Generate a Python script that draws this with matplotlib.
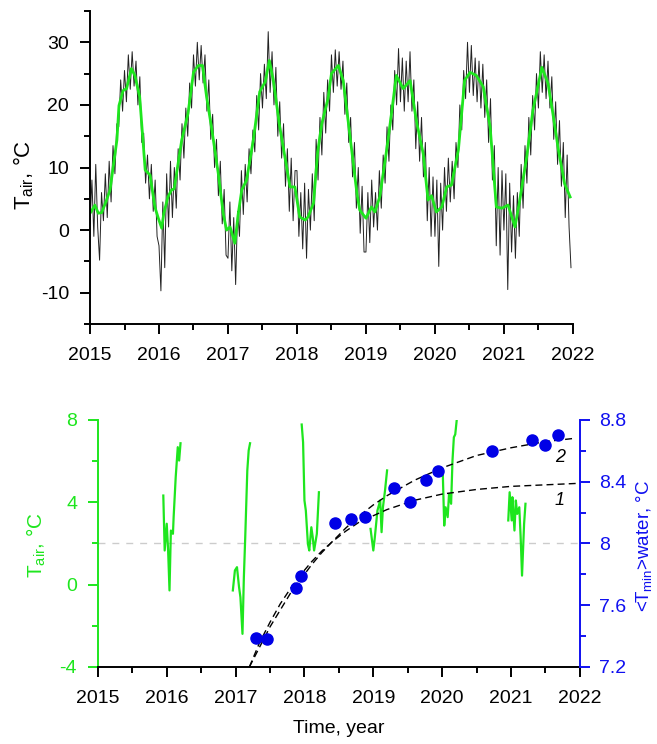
import numpy as np
import matplotlib
matplotlib.use('Agg')
import matplotlib.pyplot as plt
from matplotlib.ticker import MultipleLocator, FuncFormatter

plt.rcParams['font.family'] = ['Liberation Sans', 'DejaVu Sans']
plt.rcParams['mathtext.default'] = 'regular'
plt.rcParams['axes.unicode_minus'] = False

GREEN = '#1ee61e'
BLUE = '#1010f0'

# --- top panel: air temperature, ~10-day samples ---
tair_2015 = [1.0, 8.0, -1.0, 10.5, 0.5, -4.8, 6.0, 1.5, 9.0, 2.0, 11.0, 4.5, 13.5, 9.0, 17.0, 16.5, 24.0, 19.0,
             25.5, 20.5, 28.0, 22.5, 28.5, 23.0, 27.0, 20.0, 24.5, 14.0, 15.5, 7.5, 12.0, 5.0, 10.5, 3.0, 8.0, -1.0]
tair_2016 = [-2.5, -9.7, 4.5, -6.0, 9.0, 0.5, 11.0, 2.0, 10.0, 3.5, 13.0, 8.0, 17.0, 11.5, 19.5, 15.0, 23.5, 19.5,
             28.0, 23.0, 30.0, 24.0, 29.5, 23.5, 28.0, 19.0, 24.0, 14.5, 18.5, 10.0, 14.5, 5.5, 11.0, 1.0, 6.5, -4.0]
tair_2017 = [-4.5, 4.5, -6.5, 2.0, -8.7, 3.0, -1.0, 9.5, 2.5, 10.5, 4.5, 13.0, 9.0, 16.0, 12.5, 21.5, 16.0, 25.0,
             19.5, 26.5, 21.0, 31.7, 22.0, 28.5, 20.0, 26.0, 15.0, 20.5, 11.5, 17.0, 7.0, 13.0, 3.0, 11.5, 1.5, 9.5]
tair_2018 = [9.5, -1.0, 6.0, -3.0, 7.5, -4.5, 6.5, 0.0, 9.0, 1.5, 14.5, 8.0, 18.0, 12.0, 22.0, 15.5, 24.0, 19.0,
             28.0, 22.0, 28.8, 23.0, 28.5, 22.5, 27.0, 18.5, 23.5, 14.0, 18.0, 8.5, 14.0, 3.5, 10.0, -0.5, 7.0, -3.5]
tair_2019 = [-3.5, 6.0, -2.0, 8.0, 0.5, 6.0, 0.0, 9.5, 3.5, 12.0, 7.5, 16.5, 11.0, 20.0, 16.0, 25.5, 20.0, 29.0,
             20.5, 27.5, 19.0, 27.0, 20.5, 28.5, 19.0, 24.0, 13.0, 20.5, 11.0, 18.0, 8.5, 14.0, 1.5, 10.0, -1.0, 8.5]
tair_2020 = [-1.0, 8.0, -5.8, 7.5, 0.0, 10.0, 3.0, 11.5, 4.5, 11.0, 5.0, 14.0, 10.0, 20.0, 16.0, 25.5, 21.0, 30.0,
             22.0, 29.5, 21.5, 27.5, 20.5, 27.0, 19.5, 26.5, 18.0, 24.0, 14.0, 21.0, 8.0, 13.5, -2.5, 10.0, -4.0, 9.5]
tair_2021 = [0.0, 9.0, -9.5, 7.5, -3.5, 5.5, -4.5, 6.0, -1.0, 10.5, 3.5, 13.5, 7.5, 18.0, 12.0, 21.5, 16.0, 25.0,
             19.5, 28.5, 22.0, 28.0, 21.0, 27.0, 19.5, 24.5, 14.5, 20.5, 10.5, 17.5, 7.0, 14.0, 2.0, 12.0, 0.5, -6.0]
tair_raw = tair_2015 + tair_2016 + tair_2017 + tair_2018 + tair_2019 + tair_2020 + tair_2021
t_raw = 2015 + np.arange(len(tair_raw)) / 36.0

# smoothed air temperature (green)
smooth_t = [2015.00, 2015.02, 2015.07, 2015.12, 2015.17, 2015.23, 2015.29, 2015.39, 2015.42, 2015.48, 2015.53,
            2015.60, 2015.65, 2015.72, 2015.80, 2015.87, 2015.94, 2015.99, 2016.04, 2016.07, 2016.13, 2016.18,
            2016.22, 2016.33, 2016.42, 2016.50, 2016.57, 2016.63, 2016.69, 2016.76, 2016.86, 2016.93, 2016.98,
            2017.03, 2017.10, 2017.15, 2017.20, 2017.27, 2017.37, 2017.46, 2017.54, 2017.60, 2017.66, 2017.75,
            2017.85, 2017.90, 2017.97, 2018.04, 2018.12, 2018.16, 2018.24, 2018.30, 2018.36, 2018.45, 2018.50,
            2018.60, 2018.67, 2018.77, 2018.87, 2018.91, 2019.00, 2019.08, 2019.13, 2019.20, 2019.30, 2019.37,
            2019.44, 2019.54, 2019.64, 2019.73, 2019.83, 2019.90, 2019.95, 2020.02, 2020.10, 2020.17, 2020.24,
            2020.34, 2020.43, 2020.51, 2020.60, 2020.70, 2020.80, 2020.89, 2020.97, 2021.06, 2021.16, 2021.23,
            2021.33, 2021.42, 2021.55, 2021.64, 2021.71, 2021.79, 2021.88, 2021.96]
smooth_v = [2.7, 3.0, 4.0, 2.7, 2.8, 4.5, 6.4, 14.4, 19.9, 22.3, 22.6,
            25.8, 24.7, 21.3, 9.6, 8.8, 3.7, 1.9, 0.3, 2.7, 5.3, 6.4,
            6.6, 14.4, 18.6, 25.2, 26.3, 26.3, 21.3, 16.5, 9.0, 2.7, 0.0,
            0.5, -2.1, 2.7, 6.4, 8.0, 14.6, 22.1, 23.7, 27.1, 23.7, 16.5,
            10.1, 6.9, 6.9, 2.1, 1.6, 2.1, 4.3, 12.5, 17.0, 21.0, 25.0,
            26.3, 23.9, 14.9, 5.8, 3.2, 1.9, 3.7, 2.9, 5.3, 12.8, 18.6,
            24.7, 22.6, 23.9, 17.5, 12.2, 4.8, 5.5, 2.9, 3.7, 6.9, 7.2,
            12.8, 23.9, 25.2, 24.7, 22.9, 16.5, 3.7, 3.5, 4.0, 0.5, 4.8,
            11.7, 19.1, 26.0, 23.4, 18.6, 12.8, 7.4, 5.3]

# --- bottom panel: winter pieces of smoothed air temperature ---
winter_t = [
    [2015.95, 2015.97, 2016.00, 2016.02, 2016.04, 2016.06, 2016.09, 2016.10, 2016.13, 2016.16, 2016.18, 2016.20],
    [2016.96, 2016.99, 2017.02, 2017.05, 2017.07, 2017.10, 2017.12, 2017.14, 2017.17, 2017.19, 2017.21],
    [2017.96, 2017.98, 2018.00, 2018.02, 2018.05, 2018.07, 2018.10, 2018.12, 2018.14, 2018.18, 2018.21],
    [2018.96, 2019.00, 2019.02, 2019.06, 2019.10, 2019.12, 2019.14, 2019.17, 2019.20],
    [2020.01, 2020.03, 2020.05, 2020.08, 2020.10, 2020.13, 2020.15, 2020.17, 2020.19, 2020.21],
    [2020.96, 2020.98, 2021.01, 2021.02, 2021.05, 2021.07, 2021.09, 2021.12, 2021.14, 2021.16, 2021.19, 2021.21],
]
winter_v = [
    [4.33, 1.66, 2.96, 1.66, -0.28, 2.63, 2.47, 3.28, 5.22, 6.68, 6.03, 6.87],
    [-0.28, 0.69, 0.85, -0.12, -0.61, -2.39, 0.36, 2.31, 5.55, 6.52, 6.87],
    [7.78, 6.92, 4.09, 3.60, 1.98, 1.66, 2.79, 2.31, 1.66, 2.47, 4.49],
    [2.71, 1.66, 2.23, 3.60, 4.09, 2.55, 3.76, 4.57, 5.55],
    [5.30, 2.87, 3.76, 3.28, 4.41, 3.93, 6.03, 7.16, 7.30, 7.95],
    [3.12, 4.49, 3.12, 4.25, 2.63, 4.09, 3.44, 3.76, 2.31, 0.44, 2.96, 3.93],
]

# minimum water temperature
tmin_years = [2017.30, 2017.45, 2017.87, 2017.95, 2018.44, 2018.67, 2018.88, 2019.30, 2019.53, 2019.76,
              2019.94, 2020.72, 2021.31, 2021.50, 2021.68]
tmin_vals = [7.39, 7.38, 7.71, 7.79, 8.13, 8.16, 8.17, 8.36, 8.27, 8.41,
             8.47, 8.60, 8.67, 8.64, 8.70]

# fitted curves 1 and 2
fit_t = [2017.2, 2017.35, 2017.5, 2017.65, 2017.8, 2017.95, 2018.1, 2018.25, 2018.4, 2018.6,
         2018.8, 2019.0, 2019.2, 2019.6, 2020.0, 2020.5, 2021.0, 2021.5, 2022.0]
fit1_v = [7.20, 7.36, 7.49, 7.61, 7.71, 7.80, 7.88, 7.95, 8.01, 8.08,
          8.14, 8.18, 8.22, 8.28, 8.32, 8.35, 8.37, 8.38, 8.39]
fit2_t = fit_t[:-1] + [2021.9]
fit2_v = [7.20, 7.33, 7.46, 7.57, 7.68, 7.77, 7.86, 7.94, 8.01, 8.10,
          8.18, 8.25, 8.31, 8.41, 8.49, 8.57, 8.62, 8.66, 8.68]

year_fmt = FuncFormatter(lambda v, p: f'{v:.0f}')
num_fmt = FuncFormatter(lambda v, p: f'{v:g}')

fig = plt.figure(figsize=(6.57, 7.44), dpi=100)

# ---------------- top panel ----------------
ax1 = fig.add_axes([0.137, 0.5645, 0.735, 0.4207])
ax1.plot(t_raw, tair_raw, color='#222222', lw=0.7)
ax1.plot(smooth_t, smooth_v, color=GREEN, lw=2.0)
ax1.set_xlim(2015, 2022)
ax1.set_ylim(-15, 35)
ax1.spines['top'].set_visible(False)
ax1.spines['right'].set_visible(False)
for s in ['left', 'bottom']:
    ax1.spines[s].set_linewidth(1.4)
ax1.xaxis.set_major_locator(MultipleLocator(1))
ax1.xaxis.set_minor_locator(MultipleLocator(0.5))
ax1.yaxis.set_major_locator(MultipleLocator(10))
ax1.yaxis.set_minor_locator(MultipleLocator(5))
ax1.xaxis.set_major_formatter(year_fmt)
ax1.tick_params(which='both', direction='out', width=1.4, labelsize=14, pad=8)
ax1.tick_params(axis='x', pad=9.5)
ax1.tick_params(which='major', length=7)
ax1.tick_params(which='minor', length=4)
ax1.set_ylabel('T$_{air}$, °C', fontsize=16)
ax1.yaxis.set_label_coords(-0.112, 0.476)

# ---------------- bottom panel ----------------
ax2 = fig.add_axes([0.149, 0.1035, 0.7336, 0.332])
ax3 = ax2.twinx()

ax2.axhline(2, color='#cccccc', lw=1.0, dashes=(5, 5))
for tt, vv in zip(winter_t, winter_v):
    ax2.plot(tt, vv, color=GREEN, lw=1.6)
ax2.set_xlim(2015, 2022)
ax2.set_ylim(-4, 8)

ax3.plot(fit_t, fit1_v, color='black', lw=1.0, dashes=(5, 3))
ax3.plot(fit2_t, fit2_v, color='black', lw=1.0, dashes=(5, 3))
ax3.plot(tmin_years, tmin_vals, 'o', color='#0000e6', ms=8, zorder=5)
ax3.set_ylim(7.2, 8.8)
ax3.text(2021.71, 8.56, '2', style='italic', fontsize=13, ha='center', va='center')
ax3.text(2021.71, 8.28, '1', style='italic', fontsize=13, ha='center', va='center')

for a in (ax2, ax3):
    a.spines['top'].set_visible(False)
ax2.spines['right'].set_visible(False)
ax3.spines['left'].set_visible(False)
ax3.spines['bottom'].set_visible(False)
ax2.spines['left'].set_color(GREEN)
ax3.spines['right'].set_color(BLUE)
for s in ['left', 'bottom']:
    ax2.spines[s].set_linewidth(1.4)
ax3.spines['right'].set_linewidth(1.4)

ax2.xaxis.set_major_locator(MultipleLocator(1))
ax2.xaxis.set_minor_locator(MultipleLocator(0.5))
ax2.xaxis.set_major_formatter(year_fmt)
ax2.yaxis.set_major_locator(MultipleLocator(4))
ax2.yaxis.set_minor_locator(MultipleLocator(2))
ax3.yaxis.set_major_locator(MultipleLocator(0.4))
ax3.yaxis.set_minor_locator(MultipleLocator(0.2))
ax3.yaxis.set_major_formatter(num_fmt)

ax2.tick_params(which='both', direction='out', width=1.4, labelsize=14)
ax2.tick_params(which='major', length=7)
ax2.tick_params(which='minor', length=4)
ax2.tick_params(axis='x', pad=9.5)
ax2.tick_params(axis='y', which='both', colors=GREEN, pad=8)
ax3.tick_params(which='both', direction='out', width=1.4, labelsize=14, colors=BLUE, pad=7)
ax3.tick_params(which='major', length=7)
ax3.tick_params(which='minor', length=4)

ax2.set_ylabel('T$_{air}$, °C', color=GREEN, fontsize=15)
ax2.yaxis.set_label_coords(-0.104, 0.494)
ax3.set_ylabel('<T$_{min}$>water, °C', color=BLUE, fontsize=13.5)
ax3.yaxis.set_label_coords(1.112, 0.49)
ax2.set_xlabel('Time, year', fontsize=14)
ax2.xaxis.set_label_coords(0.5, -0.215)

fig.savefig('out.png', dpi=100)
